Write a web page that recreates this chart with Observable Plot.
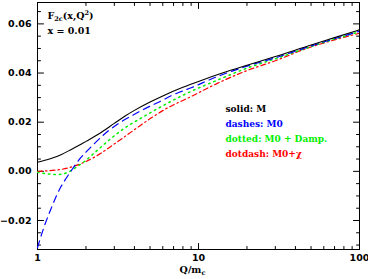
<!DOCTYPE html>
<html>
<head>
<meta charset="utf-8">
<script src="https://cdn.jsdelivr.net/npm/d3@7"></script>
<script src="https://cdn.jsdelivr.net/npm/@observablehq/plot@0.6"></script>
<style>
  html, body { margin: 0; padding: 0; background: #fff; }
  #chart svg { display: block; }
</style>
</head>
<body>
<div id="chart"></div>
<script>
// ---- data ----
const qM   = [1, 1.2, 1.4, 1.6, 1.8, 2, 2.4, 3, 3.5, 4, 5, 6, 8, 10, 15, 20, 30, 50, 70, 100];
const fM   = [0.0037, 0.0051, 0.0068, 0.0087, 0.0105, 0.0122, 0.0152, 0.0195, 0.0225, 0.0248, 0.0282, 0.0307, 0.0342, 0.0366, 0.0406, 0.0432, 0.0467, 0.0514, 0.0544, 0.0576];

const qM0  = [1, 1.1, 1.2, 1.3, 1.4, 1.5, 1.67, 1.8, 2, 2.25, 2.7, 3.2, 4, 5, 5.6, 7, 9, 13, 20, 30, 50, 100];
const fM0  = [-0.031, -0.0225, -0.016, -0.0105, -0.0062, -0.003, 0.0015, 0.0045, 0.0078, 0.0112, 0.016, 0.0195, 0.0232, 0.0265, 0.0280, 0.0312, 0.0340, 0.0385, 0.0428, 0.0462, 0.0510, 0.0570];

const qDamp = [1, 1.15, 1.3, 1.45, 1.6, 1.75, 2, 2.3, 2.84, 3.44, 4.36, 5.6, 8.9, 13.1, 20, 30, 50, 100];
const fDamp = [-0.0004, -0.0010, -0.0013, -0.0010, 0.0001, 0.0018, 0.0045, 0.0080, 0.0132, 0.0174, 0.0215, 0.0256, 0.0324, 0.0371, 0.0420, 0.0458, 0.0508, 0.0568];

const qChi = [1, 1.2, 1.41, 1.63, 1.92, 2.4, 2.98, 3.6, 4.36, 5.27, 6.1, 8.9, 13.1, 20, 30, 46, 70, 100];
const fChi = [0.0000, 0.0003, 0.0008, 0.0018, 0.0035, 0.0068, 0.0110, 0.0148, 0.0187, 0.0224, 0.0250, 0.0303, 0.0358, 0.0410, 0.0450, 0.0498, 0.0535, 0.0562];

const xTickLabels = [1, 5, 10, 50, 100];
const xMajor = [1, 10, 100];
const xMinor = [2, 3, 4, 5, 6, 7, 8, 9, 20, 30, 40, 50, 60, 70, 80, 90];
const yMajor = [-0.02, 0, 0.02, 0.04, 0.06];
const yMinor = [-0.03, -0.025, -0.015, -0.01, -0.005, 0.005, 0.01, 0.015, 0.025, 0.03, 0.035, 0.045, 0.05, 0.055, 0.065];

const legendLabels = ["solid: M", "dashes: M0", "dotted: M0 + Damp.", "dotdash: M0+\u03C7"];
const legendColors = ["#000000", "#0000ff", "#00f000", "#ff0000"];

const toRows = (q, f) => q.map((x, i) => ({q: x, f: f[i]}));

const tickShape = {draw(context, l) { context.moveTo(0, 0); context.lineTo(0, -l); }};
const ticks = (vals, anchor, rotate, len) =>
  Plot.vector(vals, {
    [anchor === "bottom" || anchor === "top" ? "x" : "y"]: d => d,
    frameAnchor: anchor, rotate, length: len, anchor: "start",
    shape: tickShape, stroke: "#000", strokeWidth: 1
  });

const serif = "DejaVu Serif";
const textOpts = {frameAnchor: "top-left", textAnchor: "start", lineAnchor: "bottom", fontFamily: serif, fontSize: 9, fontWeight: "bold"};

const plot = Plot.plot({
  width: 368,
  height: 279,
  marginLeft: 37,
  marginRight: 9,
  marginTop: 2,
  marginBottom: 30,
  style: {fontFamily: "DejaVu Sans", fontWeight: "bold", fontSize: "9.5px", background: "#fff"},
  x: {type: "log", domain: [1, 100]},
  y: {domain: [-0.0318, 0.0687]},
  marks: [
    Plot.frame({stroke: "#000", strokeWidth: 1}),
    Plot.axisX(xTickLabels, {tickSize: 0, tickPadding: 5, tickFormat: d => String(d), label: null, fontWeight: "bold"}),
    Plot.axisY(yMajor, {tickSize: 0, tickPadding: 6, tickFormat: d3.format(".2f"), label: null, fontWeight: "bold"}),
    ticks(xMajor, "bottom", 0, 6), ticks(xMinor, "bottom", 0, 3),
    ticks(xMajor, "top", 180, 6), ticks(xMinor, "top", 180, 3),
    ticks(yMajor, "left", 90, 6), ticks(yMinor, "left", 90, 3),
    ticks(yMajor, "right", -90, 6), ticks(yMinor, "right", -90, 3),
    Plot.line(toRows(qChi, fChi), {x: "q", y: "f", stroke: legendColors[3], strokeWidth: 1.2, strokeDasharray: "5,3,1.5,3", curve: "monotone-x", clip: true}),
    Plot.line(toRows(qDamp, fDamp), {x: "q", y: "f", stroke: legendColors[2], strokeWidth: 1.5, strokeDasharray: "1.5,4", curve: "monotone-x", clip: true}),
    Plot.line(toRows(qM0, fM0), {x: "q", y: "f", stroke: legendColors[1], strokeWidth: 1.2, strokeDasharray: "7,5", curve: "monotone-x", clip: true}),
    Plot.line(toRows(qM, fM), {x: "q", y: "f", stroke: legendColors[0], strokeWidth: 1.1, curve: "monotone-x", clip: true}),
    Plot.text(["TITLE"], {...textOpts, dx: 10, dy: 16, fontSize: 9.5}),
    Plot.text(["x = 0.01"], {...textOpts, dx: 10, dy: 31, fontSize: 9.5}),
    ...legendLabels.map((s, i) => Plot.text([s], {...textOpts, dx: 188, dy: 109 + 15 * i, fill: legendColors[i]})),
    Plot.text(["XLABEL"], {frameAnchor: "bottom", dx: -6, dy: 23, textAnchor: "middle", lineAnchor: "bottom", fontFamily: serif, fontSize: 9.5, fontWeight: "bold"})
  ]
});

const NS = "http://www.w3.org/2000/svg";
function richText(t, parts) {
  t.textContent = "";
  parts.forEach(([str, dy, fs]) => {
    const sp = document.createElementNS(NS, "tspan");
    sp.textContent = str;
    if (dy) sp.setAttribute("dy", dy);
    if (fs) sp.setAttribute("font-size", fs);
    t.appendChild(sp);
  });
}
plot.querySelectorAll("text").forEach(t => {
  const s = t.textContent;
  if (s === "TITLE") richText(t, [["F", 0, null], ["2c", 2.5, 6.5], ["(x,Q", -2.5, null], ["2", -3.5, 6.5], [")", 3.5, null]]);
  if (s === "XLABEL") richText(t, [["Q/m", 0, null], ["c", 2.5, 6.5]]);
});

document.getElementById("chart").appendChild(plot);
</script>
</body>
</html>
